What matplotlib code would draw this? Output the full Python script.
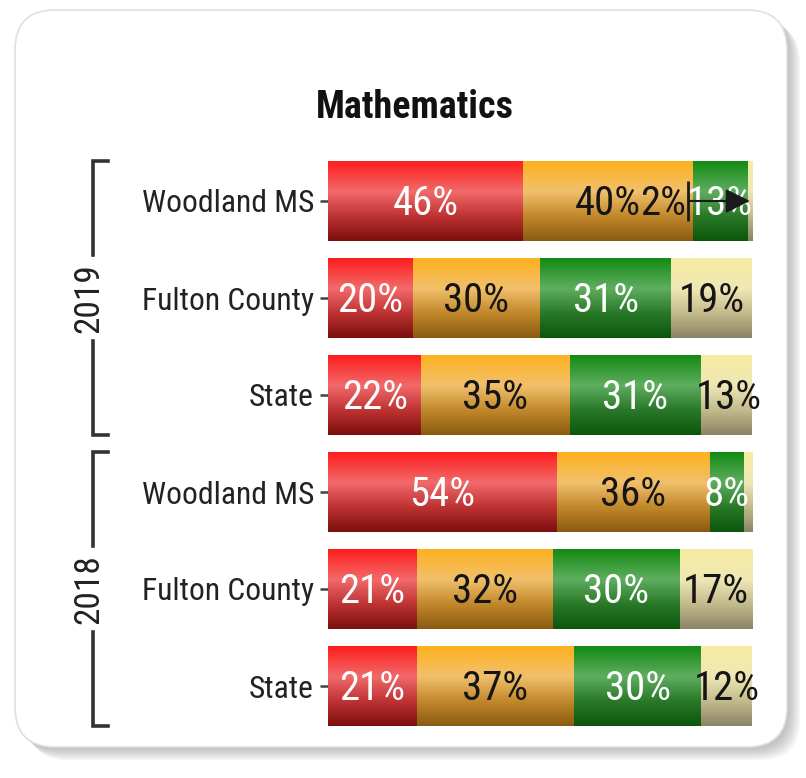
import numpy as np
import matplotlib
matplotlib.use('Agg')
import matplotlib.pyplot as plt
from matplotlib import font_manager
from matplotlib.font_manager import FontProperties
from matplotlib.textpath import TextPath
from matplotlib.patches import FancyBboxPatch
from matplotlib.colors import LinearSegmentedColormap
import matplotlib.transforms as mtransforms

# ---------------- data ----------------
title = 'Mathematics'
entities = ['Woodland MS', 'Fulton County', 'State', 'Woodland MS', 'Fulton County', 'State']
years = ['2019', '2018']
rows_per_year = 3
beginning = [46, 20, 22, 54, 21, 21]      # red
developing = [40, 30, 35, 36, 32, 37]     # orange
proficient = [13, 31, 31, 8, 30, 30]      # green
distinguished = [2, 19, 13, 2, 17, 12]    # pale yellow
distinguished_shown = [True, True, True, False, True, True]
leader_rows = [0]   # small label moved aside with an arrow

# ---------------- fonts ----------------
names = {f.name for f in font_manager.fontManager.ttflist}
FONT = dict(family='DejaVu Sans', stretch='condensed')
for cand in ['Liberation Sans Narrow', 'Arial Narrow', 'Roboto Condensed',
             'Noto Sans Condensed', 'Open Sans Condensed']:
    if cand in names:
        FONT = dict(family=cand)
        break

DPI = 100


def fit_size(text, target_px, weight='normal'):
    tp = TextPath((0, 0), text, size=100, prop=FontProperties(weight=weight, **FONT))
    w = tp.get_extents().width
    return 100 * target_px / (w * DPI / 72)


FS_TICK = fit_size('Woodland MS', 170)
FS_VAL = fit_size('46%', 63)
FS_TITLE = fit_size(title, 194, 'bold')
FS_YEAR = fit_size('2019', 66)

W, H = 806, 778
fig = plt.figure(figsize=(W / DPI, H / DPI), dpi=DPI)

# ---------------- card background ----------------
bg = fig.add_axes([0, 0, 1, 1])
bg.set_xlim(0, W)
bg.set_ylim(H, 0)
bg.axis('off')
cx, cy, cw, ch = 15, 10, 772, 737
for i in range(10):
    off = 1.5 + i * 1.3
    bg.add_patch(FancyBboxPatch((cx + off, cy + off), cw, ch,
                                boxstyle='round,pad=0,rounding_size=40',
                                fc='#707070', ec='none', alpha=0.05))
bg.add_patch(FancyBboxPatch((cx, cy), cw, ch,
                            boxstyle='round,pad=0,rounding_size=40',
                            fc='white', ec='#e0e0e0', lw=1.2))

fig.text(415 / W, 1 - 107 / H, title, ha='center', va='center',
         fontsize=FS_TITLE, fontweight='bold', color='#111111', **FONT)

# ---------------- main axes ----------------
ax = fig.add_axes([328 / W, 1 - 734.5 / H, 424 / W, 582 / H])
ax.patch.set_alpha(0)
n = len(entities)
y = np.arange(n)
bar_h = 0.82
XMAX = 100

series = [beginning, developing, proficient, distinguished]
stops = [
    ['#ff1c1c', '#f26a6a', '#c03434', '#7c0e0e'],
    ['#ffb11e', '#f1c06c', '#c38a2c', '#8a5a10'],
    ['#138a13', '#5fae5f', '#2a7a2a', '#0c560c'],
    ['#f6eca2', '#efe7b4', '#c4bc8c', '#8a8466'],
]
stop_pos = [0.0, 0.38, 0.68, 1.0]
text_colors = ['white', '#151515', 'white', '#151515']

grad = np.linspace(0, 1, 256).reshape(-1, 1)
lefts = np.zeros(n)
for k, vals in enumerate(series):
    vals = np.array(vals, dtype=float)
    bars = ax.barh(y, vals, left=lefts, height=bar_h, color=stops[k][1],
                   edgecolor='none', zorder=2)
    cmap = LinearSegmentedColormap.from_list(f's{k}', list(zip(stop_pos, stops[k])))
    for p in bars.patches:
        x0, y0 = p.get_x(), p.get_y()
        x1 = min(x0 + p.get_width(), XMAX)
        im = ax.imshow(grad, extent=(x0, x1, y0 + p.get_height(), y0),
                       origin='upper', aspect='auto', cmap=cmap, zorder=2.5,
                       interpolation='bilinear')
        im.set_clip_path(p)
    for i in range(n):
        if k == 3 and not distinguished_shown[i]:
            continue
        label = f'{vals[i]:.0f}%'
        cxv = lefts[i] + vals[i] / 2
        if k == 3 and i in leader_rows:
            start = lefts[i] - proficient[i] - 1
            ax.annotate('', xy=(min(cxv, XMAX - 0.5), y[i]), xytext=(start, y[i]),
                        arrowprops=dict(arrowstyle='-|>,head_length=0.5,head_width=0.25',
                                        color='#1a1a1a', lw=1.5,
                                        mutation_scale=30, shrinkA=0, shrinkB=0),
                        zorder=6, annotation_clip=False)
            ax.plot([start], [y[i]], marker='|', ms=29, mew=2, color='#1a1a1a', zorder=6,
                    clip_on=False)
            ax.text(start - 0.6, y[i] + 0.03, label, ha='right', va='center',
                    fontsize=FS_VAL, color=text_colors[k], zorder=6, **FONT)
            continue
        ax.text(cxv, y[i] + 0.03, label, ha='center', va='center', fontsize=FS_VAL,
                color=text_colors[k], zorder=5, clip_on=False, **FONT)
    lefts = lefts + vals

ax.set_xlim(0, XMAX)
ax.set_ylim(n - 0.5, -0.5)
ax.set_yticks(y)
ax.set_yticklabels(entities, fontsize=FS_TICK, color='#222222', **FONT)
ax.tick_params(axis='y', length=6, width=1.8, color='#404040', pad=4)
ax.set_xticks([])
for s in ax.spines.values():
    s.set_visible(False)

# ---------------- year brackets ----------------
trans = mtransforms.blended_transform_factory(ax.transAxes, ax.transData)
xl, xc = -0.554, -0.519
gap = 0.44
for g, yr in enumerate(years):
    top = g * rows_per_year - bar_h / 2
    bot = g * rows_per_year + rows_per_year - 1 + bar_h / 2
    mid = g * rows_per_year + (rows_per_year - 1) / 2
    ax.plot([xc, xl, xl], [top, top, mid - gap], color='#333333', lw=2.6,
            transform=trans, clip_on=False, solid_joinstyle='miter')
    ax.plot([xl, xl, xc], [mid + gap, bot, bot], color='#333333', lw=2.6,
            transform=trans, clip_on=False, solid_joinstyle='miter')
    ax.text(xl - 0.01, mid, yr, rotation=90, ha='center', va='center', fontsize=FS_YEAR,
            color='#222222', transform=trans, **FONT)

fig.savefig('out.png', dpi=DPI)
